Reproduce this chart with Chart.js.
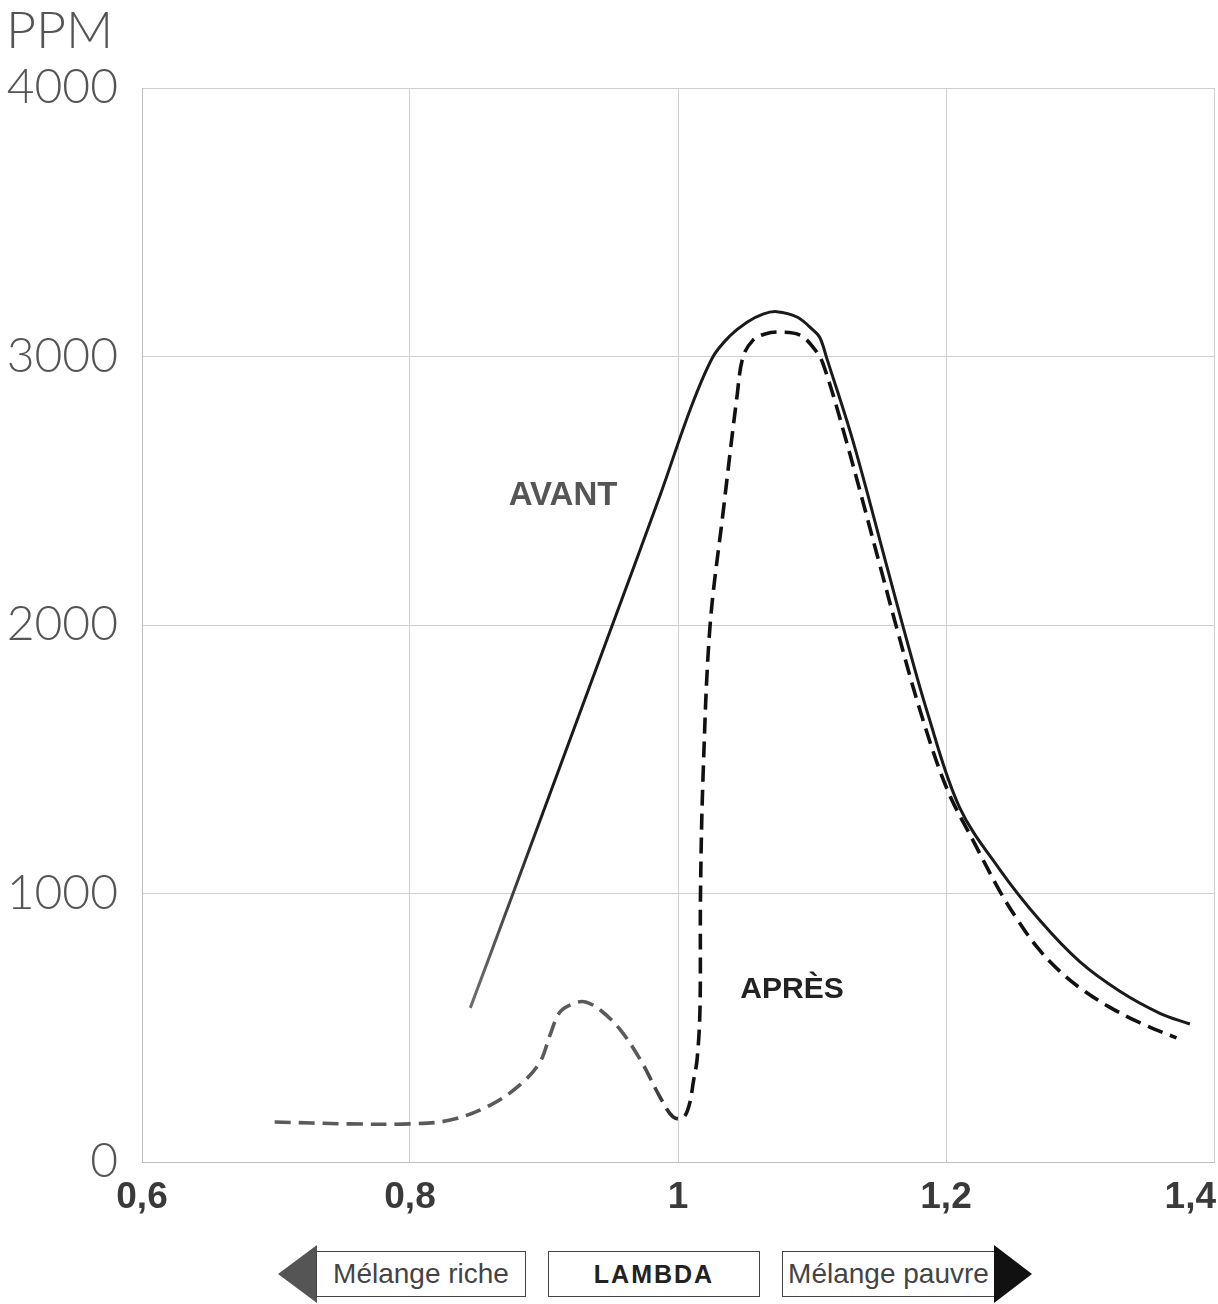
<!DOCTYPE html>
<html><head><meta charset="utf-8">
<script src="https://cdn.jsdelivr.net/npm/chart.js@4"></script>
<style>
html,body{margin:0;padding:0;background:#fff;}
#wrap{position:relative;width:1218px;height:1304px;overflow:hidden;}
canvas{display:block}
.box{position:absolute;box-sizing:border-box;border:1.5px solid #444;top:1251px;height:46px;display:flex;align-items:center;justify-content:center;font-family:'Liberation Sans',Arial,sans-serif;font-size:28px;color:#444;background:#fff;}
.arrow{position:absolute;width:0;height:0;border-top:29px solid transparent;border-bottom:29px solid transparent;top:1245px;}
</style></head>
<body><div id="wrap"><canvas id="c" width="1218" height="1304"></canvas>
<div class="arrow" style="left:278px;border-right:39px solid #555;"></div>
<div class="box" style="left:316px;width:210px;">Mélange riche</div>
<div class="box" style="left:548px;width:212px;font-weight:bold;color:#222;letter-spacing:2px;font-size:25px">LAMBDA</div>
<div class="box" style="left:782px;width:213px;">Mélange pauvre</div>
<div class="arrow" style="left:994px;border-left:38px solid #111;"></div>
</div>
<script>
// ---- data ----
const avantX = [0.845, 0.877, 0.951, 0.987, 1.009, 1.026, 1.0388, 1.0515, 1.0634, 1.0737, 1.0888, 1.1007, 1.106, 1.111, 1.1306, 1.156, 1.168, 1.186, 1.210, 1.240, 1.270, 1.300, 1.330, 1.360, 1.382];
const avantY = [574, 1002, 2000, 2488, 2801, 2998, 3077, 3128, 3158, 3167, 3147, 3099, 3069, 2994, 2685, 2216, 1993, 1676, 1322, 1090, 900, 745, 635, 553, 514];
const apresX = [0.699, 0.755, 0.800, 0.830, 0.860, 0.882, 0.897, 0.9045, 0.912, 0.923, 0.931, 0.942, 0.957, 0.972, 0.987, 0.9963, 1.0037, 1.0085, 1.0115, 1.0142, 1.0164, 1.0168, 1.0187, 1.0239, 1.0336, 1.044, 1.0485, 1.056, 1.065, 1.076, 1.091, 1.1007, 1.108, 1.1256, 1.151, 1.163, 1.181, 1.2007, 1.222, 1.240, 1.253, 1.268, 1.285, 1.302, 1.322, 1.345, 1.372];
const apresY = [149, 142, 142, 156, 212, 287, 372, 473, 559, 592, 596, 566, 492, 380, 238, 168, 164, 215, 300, 380, 566, 1002, 1438, 1996, 2417, 2850, 2998, 3061, 3084, 3091, 3080, 3035, 2976, 2685, 2216, 1993, 1676, 1390, 1180, 1010, 905, 800, 710, 641, 577, 518, 462];
const xTickValues = [0.6, 0.8, 1, 1.2, 1.4];
const xTickLabels = ['0,6', '0,8', '1', '1,2', '1,4'];
const yTickValues = [0, 1000, 2000, 3000, 4000];
const yTickLabels = ['0', '1000', '2000', '3000', '4000'];
const seriesNames = ['AVANT', 'APRÈS'];
const yAxisTitle = 'PPM';
// annotation anchor positions (data units)
const labelAnchors = [{x: 0.9142, y: 2480}, {x: 1.0851, y: 641}];

function grad(context, x0, x1, c0, c1) {
  const chart = context.chart;
  const area = chart.chartArea;
  if (!area) return c1;
  const p0 = chart.scales.x.getPixelForValue(x0), p1 = chart.scales.x.getPixelForValue(x1);
  const g = chart.ctx.createLinearGradient(p0, 0, p1, 0);
  g.addColorStop(0, c0); g.addColorStop(1, c1);
  return g;
}

const textPlugin = {
  id: 'texts',
  afterDraw(chart) {
    const c = chart.ctx, xs = chart.scales.x, ys = chart.scales.y;
    c.save();
    c.font = '300 52px Lato, "DejaVu Sans", sans-serif';
    c.fillStyle = '#555';
    c.textAlign = 'left'; c.textBaseline = 'alphabetic';
    c.fillText(yAxisTitle, 6, 48);
    c.font = 'bold 37px "Liberation Sans", Arial, sans-serif';
    c.fillStyle = '#3a3a3a';
    c.textAlign = 'center';
    xTickValues.forEach((v, i) => {
      const w = c.measureText(xTickLabels[i]).width;
      let px = xs.getPixelForValue(v);
      px = Math.min(px, chart.width - 2 - w / 2);
      c.fillText(xTickLabels[i], px, 1208);
    });
    c.textBaseline = 'middle';
    c.font = 'bold 33px "Liberation Sans", Arial, sans-serif';
    c.fillStyle = '#555';
    c.fillText(seriesNames[0], xs.getPixelForValue(labelAnchors[0].x), ys.getPixelForValue(labelAnchors[0].y));
    c.font = 'bold 30px "Liberation Sans", Arial, sans-serif';
    c.fillStyle = '#222';
    c.fillText(seriesNames[1], xs.getPixelForValue(labelAnchors[1].x), ys.getPixelForValue(labelAnchors[1].y));
    c.restore();
  }
};

new Chart(document.getElementById('c'), {
  type: 'line',
  data: {
    datasets: [
      {
        label: seriesNames[0],
        data: avantX.map((x, i) => ({x, y: avantY[i]})),
        borderColor: (ctx) => grad(ctx, 0.85, 0.9, '#6a6a6a', '#1a1a1a'),
        borderWidth: 3,
        pointRadius: 0,
        tension: 0.35,
        fill: false
      },
      {
        label: seriesNames[1],
        data: apresX.map((x, i) => ({x, y: apresY[i]})),
        borderColor: (ctx) => grad(ctx, 0.97, 1.01, '#5a5a5a', '#111'),
        borderWidth: 3.6,
        borderDash: [16, 8],
        pointRadius: 0,
        tension: 0.35,
        fill: false
      }
    ]
  },
  options: {
    responsive: false,
    animation: false,
    layout: {padding: {top: 88, left: 0, right: 4, bottom: 0}},
    plugins: {legend: {display: false}, tooltip: {enabled: false}},
    scales: {
      x: {
        type: 'linear', min: 0.6, max: 1.4,
        ticks: {display: false, stepSize: 0.2},
        grid: {color: '#cfcfcf', lineWidth: 1, drawTicks: false},
        border: {display: true, color: '#bdbdbd'},
        afterFit: (s) => { s.height = 142; s.paddingLeft = 0; s.paddingRight = 0; }
      },
      y: {
        type: 'linear', min: 0, max: 4000,
        afterBuildTicks: (s) => { s.ticks = yTickValues.map(v => ({value: v})); },
        ticks: {
          padding: 24,
          color: '#555',
          font: {family: 'Lato, "DejaVu Sans", sans-serif', size: 48, weight: '300'},
          callback: (v) => { const i = yTickValues.indexOf(v); return i >= 0 ? yTickLabels[i] : ''; }
        },
        grid: {color: '#cfcfcf', lineWidth: 1, drawTicks: false},
        border: {display: true, color: '#bdbdbd'},
        afterFit: (s) => { s.width = 142; }
      }
    }
  },
  plugins: [textPlugin]
});
</script>
</body></html>
